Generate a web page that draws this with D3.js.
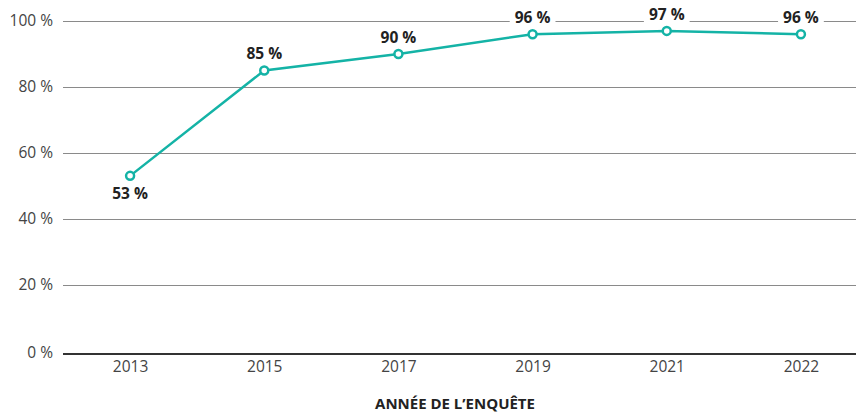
<!DOCTYPE html>
<html>
<head>
<meta charset="utf-8">
<script src="https://cdn.jsdelivr.net/npm/d3@7"></script>
<style>
  body { margin: 0; background: #fff; }
  #chart { width: 856px; height: 414px; }
  text { font-family: "Open Sans", Lato, sans-serif; }
</style>
</head>
<body>
<div id="chart"></div>
<script>
// data
const years = ["2013", "2015", "2017", "2019", "2021", "2022"];
const values = [53, 85, 90, 96, 97, 96];
const yTicks = [0, 20, 40, 60, 80, 100];
const axisTitle = "ANNÉE DE L’ENQUÊTE";

const width = 856, height = 414;
const teal = "#14b3a6";

let svg = d3.select("#chart")
    .append("svg")
    .attr("width", width)
    .attr("height", height);

// scales
const x = d3.scalePoint()
    .domain(years)
    .range([63, 868])
    .padding(0.5);

const y = d3.scaleLinear()
    .domain([0, 100])
    .range([350.5, 21]);

// grid lines (skip 0, the baseline is drawn separately)
svg.append("g")
    .selectAll("line")
    .data(yTicks.filter(d => d > 0))
    .join("line")
    .attr("x1", 63)
    .attr("x2", width)
    .attr("y1", d => Math.round(y(d)) + 0.5)
    .attr("y2", d => Math.round(y(d)) + 0.5)
    .attr("stroke", "#8a8a8a")
    .attr("stroke-width", 1);

// y labels
svg.append("g")
    .selectAll("text")
    .data(yTicks)
    .join("text")
    .attr("x", 53)
    .attr("y", d => d === 0 ? y(d) + 2 : y(d))
    .attr("dy", "0.35em")
    .attr("text-anchor", "end")
    .attr("font-size", 15.5)
    .attr("fill", "#444")
    .text(d => d + " %");

// baseline
svg.append("line")
    .attr("x1", 63)
    .attr("x2", width)
    .attr("y1", y(0) + 3.5)
    .attr("y2", y(0) + 3.5)
    .attr("stroke", "#333")
    .attr("stroke-width", 2);

// x axis labels
const xAxis = d3.axisBottom(x).tickSize(0).tickPadding(0);
let xg = svg.append("g")
    .attr("transform", "translate(0," + (y(0) + 8) + ")")
    .call(xAxis);
xg.select(".domain").remove();
xg.selectAll("text")
    .attr("font-size", 15.5)
    .attr("fill", "#444")
    .attr("dy", "0.9em")
    .style("font-family", "'Open Sans', Lato, sans-serif");

// axis title
svg.append("text")
    .attr("x", 455)
    .attr("y", 409)
    .attr("text-anchor", "middle")
    .attr("font-size", 15)
    .attr("font-weight", "bold")
    .attr("fill", "#222")
    .text(axisTitle);

const data = years.map((yr, i) => ({year: yr, value: values[i]}));

// line
svg.append("path")
    .datum(data)
    .attr("fill", "none")
    .attr("stroke", teal)
    .attr("stroke-width", 2.5)
    .attr("d", d3.line().x(d => x(d.year)).y(d => y(d.value)));

// value labels with white knockout
let labels = svg.append("g")
    .selectAll("g")
    .data(data)
    .join("g")
    .attr("transform", (d, i) => "translate(" + x(d.year) + "," + (i === 0 ? y(d.value) + 23 : y(d.value) - 11) + ")");

labels.append("text")
    .attr("text-anchor", "middle")
    .attr("font-size", 15.5)
    .attr("font-weight", "bold")
    .attr("fill", "#222")
    .text(d => d.value + " %")
    .each(function() {
        const b = this.getBBox();
        d3.select(this.parentNode).insert("rect", "text")
            .attr("x", b.x - 5)
            .attr("y", b.y)
            .attr("width", b.width + 10)
            .attr("height", b.height)
            .attr("fill", "#fff");
    });

// markers
svg.append("g")
    .selectAll("circle")
    .data(data)
    .join("circle")
    .attr("cx", d => x(d.year))
    .attr("cy", d => y(d.value))
    .attr("r", 4)
    .attr("fill", "#fff")
    .attr("stroke", teal)
    .attr("stroke-width", 2.5);
</script>
</body>
</html>
